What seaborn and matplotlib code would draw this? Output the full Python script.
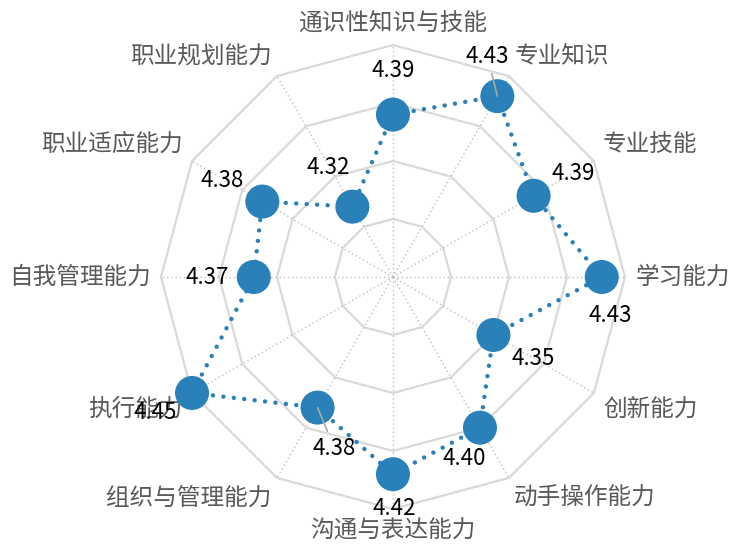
import numpy as np
import pandas as pd
import matplotlib
matplotlib.use('Agg')
import matplotlib.pyplot as plt
import seaborn as sns

# data, clockwise from the top
categories = ['通识性知识与技能', '专业知识', '专业技能', '学习能力', '创新能力', '动手操作能力',
              '沟通与表达能力', '组织与管理能力', '执行能力', '自我管理能力', '职业适应能力', '职业规划能力']
scores = [4.39, 4.43, 4.39, 4.43, 4.35, 4.40, 4.42, 4.38, 4.45, 4.37, 4.38, 4.32]
score_labels = ['4.39', '4.43', '4.39', '4.43', '4.35', '4.40', '4.42', '4.38', '4.45', '4.37', '4.38', '4.32']
ring_levels = [4.30, 4.35, 4.40, 4.45]
r_min, r_max = 4.25, 4.45

# where the value labels sit relative to their marker (pixels), and which ones get a leader line
label_offsets = [(0, 44), (-10, 40), (40, 22), (8, -39), (40, -24), (-16, -31),
                 (1, -34), (17, -41), (-37, -20), (-47, -1), (-40, 21), (-24, 39)]
leader = [False, True, False, False, False, False, False, True, False, False, False, False]

sns.set_theme(style='white')
plt.rcParams['font.family'] = ['Noto Sans CJK SC', 'DejaVu Sans']

blue = '#2A80B9'
df = pd.DataFrame({'cat': categories, 'score': scores})
df['theta'] = np.linspace(0, 2 * np.pi, len(df), endpoint=False)

fig = plt.figure(figsize=(7.3, 5.46), dpi=100)
ax = fig.add_axes([0.2205, 0.0678, 0.6356, 0.8498], projection='polar')
ax.set_theta_zero_location('N')
ax.set_theta_direction(-1)
ax.set_ylim(r_min, r_max)
ax.grid(False)
ax.spines['polar'].set_visible(False)
ax.set_xticks([])
ax.set_yticks([])

# polygon grid + dotted spokes
th_closed = np.append(df['theta'].values, df['theta'].values[0])
for lvl in ring_levels:
    ax.plot(th_closed, [lvl] * len(th_closed), color='#D9D9D9', lw=1.6, zorder=1, clip_on=False)
for t in df['theta']:
    ax.plot([t, t], [r_min, r_max], color='#BFBFBF', lw=1.0, ls=(0, (1, 2)), zorder=1, clip_on=False)

# dotted series line
sc_closed = np.append(df['score'].values, df['score'].values[0])
ax.plot(th_closed, sc_closed, color=blue, lw=3.2, ls=(0, (0.01, 2.35)),
        dash_capstyle='round', zorder=3, clip_on=False)

sns.scatterplot(data=df, x='theta', y='score', ax=ax, s=600, color=blue,
                edgecolor='none', zorder=4, clip_on=False, legend=False)
ax.set_xlabel('')
ax.set_ylabel('')

# value labels
for i, row in df.iterrows():
    ap = dict(arrowstyle='-', color='#A6A6A6', lw=1.2, shrinkA=2, shrinkB=0) if leader[i] else None
    ax.annotate(score_labels[i], xy=(row['theta'], row['score']), xytext=label_offsets[i],
                textcoords='offset pixels', ha='center', va='center', fontsize=16,
                color='black', zorder=6, annotation_clip=False, arrowprops=ap)

# category labels
lab_r = 4.459
for i, row in df.iterrows():
    s, c = np.sin(row['theta']), np.cos(row['theta'])
    ha = 'center' if abs(s) < 0.01 else ('left' if s > 0 else 'right')
    if abs(c) < 0.01:
        va = 'center'
    elif abs(s) < 0.01:
        va = 'bottom' if c > 0 else 'top'
    else:
        va = 'bottom' if c > 0 else 'top'
    ax.text(row['theta'], lab_r, row['cat'], ha=ha, va=va, fontsize=17, color='#595959')

fig.savefig('out.png', dpi=100)
